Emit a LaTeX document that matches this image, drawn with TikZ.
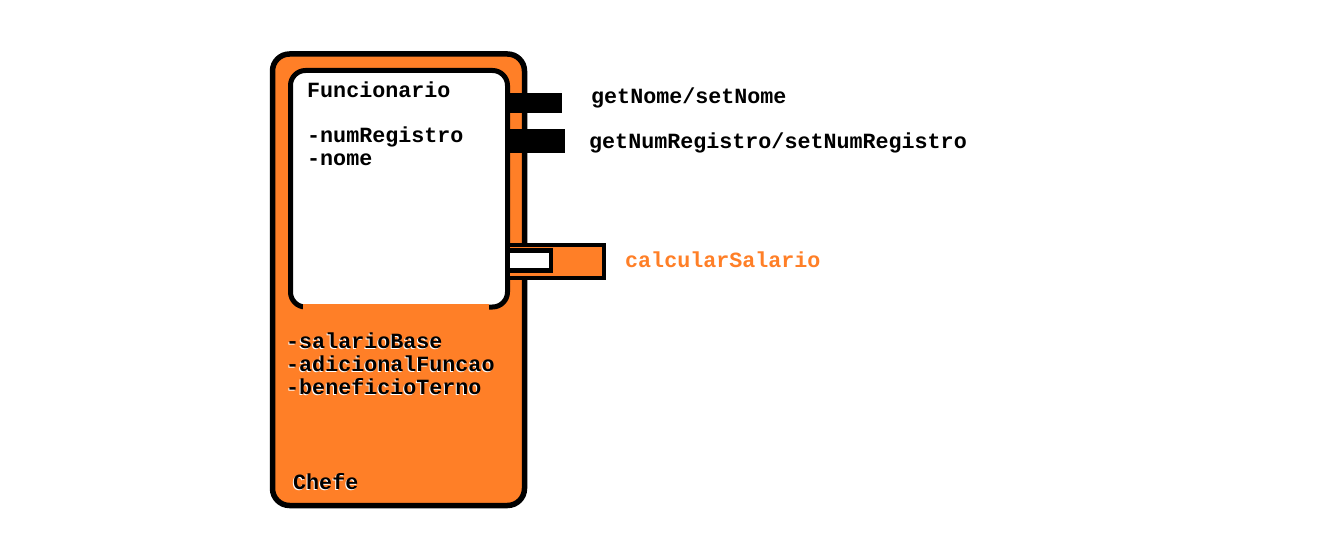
\documentclass[tikz,border=0pt]{standalone}
\usepackage{fontspec}
\setmainfont{Liberation Mono}
\definecolor{paintorange}{HTML}{FF7F27}
\tikzset{
  lbl/.style={font=\fontsize{21.7}{24}\selectfont\bfseries, inner sep=0pt, anchor=base west},
  shadowlbl/.style={lbl, text=white},
  chefebox/.style={draw=black, line width=5.5pt, fill=paintorange, rounded corners=17pt},
  funcbox/.style={draw=black, line width=5pt, fill=white, rounded corners=15pt},
  methodbar/.style={fill=black, draw=none},
}
\begin{document}
\begin{tikzpicture}[x=1pt,y=-1pt]
\useasboundingbox (0,0) rectangle (1328,548);
% outer Chefe box
\draw[chefebox] (272.5,54) rectangle (524.5,505.5);
% inner Funcionario box
\draw[funcbox] (290.5,70.5) rectangle (507.5,307);
\fill[paintorange] (303,304) rectangle (489,313);
% method bars
\fill[methodbar] (505,93) rectangle (562,113);
\fill[methodbar] (505,129) rectangle (565,153);
% calcularSalario plug
\draw[line width=4.5pt, fill=paintorange] (507.25,245.25) rectangle (603.75,277.75);
\draw[line width=4.5pt, fill=white] (507.5,250.5) rectangle (551,270.5);
% texts
\node[lbl] (func) at (307,97.5) {Funcionario};
\node[lbl] (numreg) at (307,142.5) {-numRegistro};
\node[lbl] (nome) at (307,165.5) {-nome};
\node[lbl] (getnome) at (591,103.5) {getNome/setNome};
\node[lbl] (getnum) at (589,148.5) {getNumRegistro/setNumRegistro};
\node[lbl, text=paintorange] (calc) at (625,267.5) {calcularSalario};
\foreach \t/\yy/\xx/\nm in {-salarioBase/348.5/286/sal, -adicionalFuncao/371.5/286/adic, -beneficioTerno/394.5/286/ben, Chefe/489.5/293/chefe}{
  \node[shadowlbl] at (\xx-1,\yy+1) {\t};
  \node[lbl] (\nm) at (\xx,\yy) {\t};
}
\end{tikzpicture}
\end{document}
